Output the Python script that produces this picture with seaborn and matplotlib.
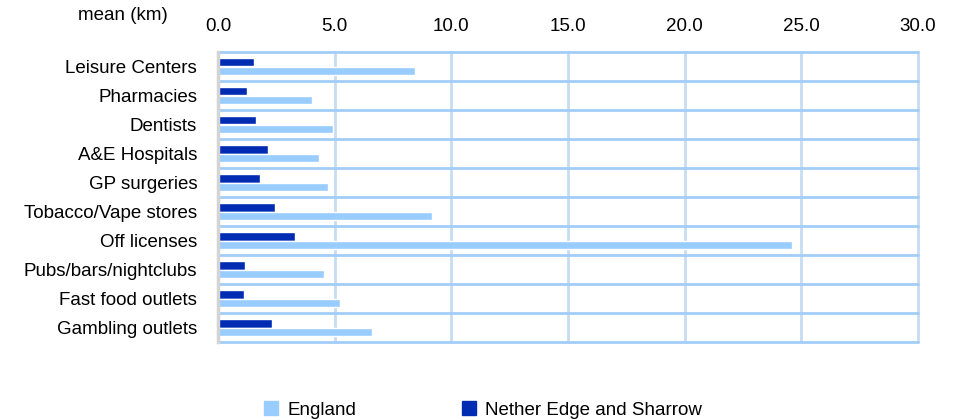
import pandas as pd
import numpy as np
import matplotlib
matplotlib.use("Agg")
import matplotlib.pyplot as plt
import seaborn as sns
from matplotlib.patches import Patch

# Datos
categorias = [
    "Leisure Centers", "Pharmacies", "Dentists", "A&E Hospitals", "GP surgeries",
    "Tobacco/Vape stores", "Off licenses", "Pubs/bars/nightclubs",
    "Fast food outlets", "Gambling outlets",
]
england = [8.45, 4.03, 4.93, 4.33, 4.71, 9.17, 24.6, 4.54, 5.23, 6.6]
nether_edge = [1.54, 1.24, 1.63, 2.14, 1.80, 2.44, 3.30, 1.16, 1.11, 2.31]
series = ["Nether Edge and Sharrow", "England"]
ticks_x = [0, 5, 10, 15, 20, 25, 30]

df = pd.DataFrame({
    "categoria": categorias * 2,
    "valor": nether_edge + england,
    "serie": [series[0]] * len(categorias) + [series[1]] * len(categorias),
})

sns.set_style("white")
plt.rcParams["font.family"] = ["Liberation Sans", "DejaVu Sans"]
plt.rcParams["text.color"] = "black"
plt.rcParams["xtick.color"] = "black"
plt.rcParams["ytick.color"] = "black"

colores = {"Nether Edge and Sharrow": "#002bb3", "England": "#99ccff"}

fig = plt.figure(figsize=(9.55, 4.2), dpi=100)
ax = fig.add_axes([218 / 955, 1 - 342 / 420, 700 / 955, 290 / 420])

sns.barplot(
    data=df, y="categoria", x="valor", hue="serie", hue_order=series,
    order=categorias, palette=colores, width=0.58, orient="h",
    saturation=1, ax=ax, legend=False,
)

ax.set_xlim(0, 30)
ax.set_ylim(9.5, -0.5)
ax.set_xticks(ticks_x)
ax.set_xticklabels([f"{t:.1f}" for t in ticks_x], fontsize=13.5)
ax.xaxis.tick_top()
ax.tick_params(axis="x", length=0, pad=12)
ax.tick_params(axis="y", length=0, labelsize=13.5, pad=15)
ax.set_xlabel("")
ax.set_ylabel("")

# Rejilla
for t in ticks_x[1:]:
    ax.axvline(t, color="#c6dcf2", lw=2, zorder=0, clip_on=False)
for y in np.arange(-0.5, 10, 1):
    ax.axhline(y, color="#a3cdf7", lw=2, zorder=0.5, clip_on=False)

for s in ["top", "right", "bottom"]:
    ax.spines[s].set_visible(False)
ax.spines["left"].set_color("#d4d4d4")
ax.spines["left"].set_linewidth(2.5)

fig.text(78 / 955, 1 - 16 / 420, "mean (km)", fontsize=13.5, va="center", ha="left")

handles = [Patch(color=colores["England"]), Patch(color=colores["Nether Edge and Sharrow"])]
fig.legend(
    handles, ["England", "Nether Edge and Sharrow"], loc="center",
    bbox_to_anchor=(483 / 955, 1 - 410 / 420), ncol=2, frameon=False,
    fontsize=13.5, handlelength=0.75, handleheight=0.75, columnspacing=5.6,
    handletextpad=0.5,
)

fig.savefig("out.png", dpi=100)
